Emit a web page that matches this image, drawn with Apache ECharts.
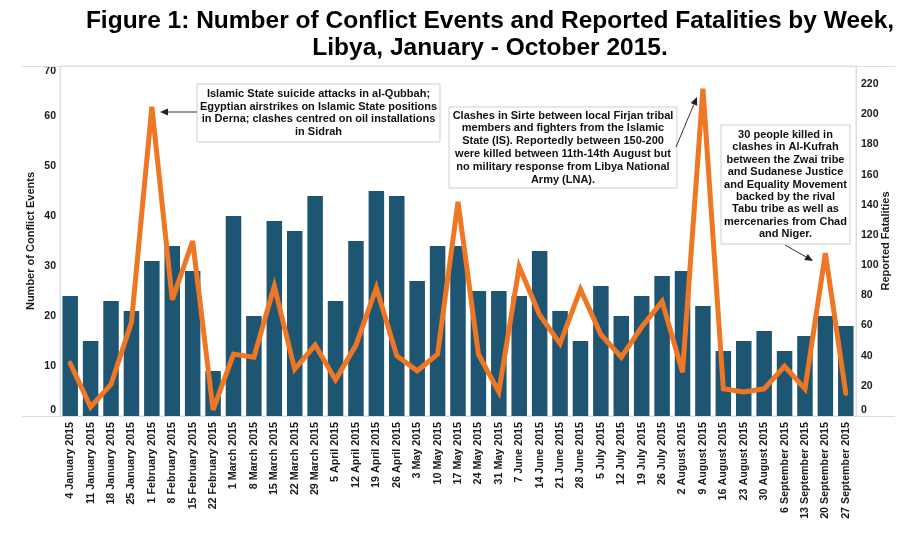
<!DOCTYPE html>
<html>
<head>
<meta charset="utf-8">
<script src="https://cdn.jsdelivr.net/npm/echarts@6/dist/echarts.min.js"></script>
<style>
html,body{margin:0;padding:0;background:#fff;}
#chart{width:919px;height:551px;}
</style>
</head>
<body>
<div id="chart"></div>
<script>
var weeks = ['4 January 2015','11 January 2015','18 January 2015','25 January 2015','1 February 2015','8 February 2015','15 February 2015','22 February 2015','1 March 2015','8 March 2015','15 March 2015','22 March 2015','29 March 2015','5 April 2015','12 April 2015','19 April 2015','26 April 2015','3 May 2015','10 May 2015','17 May 2015','24 May 2015','31 May 2015','7 June 2015','14 June 2015','21 June 2015','28 June 2015','5 July 2015','12 July 2015','19 July 2015','26 July 2015','2 August 2015','9 August 2015','16 August 2015','23 August 2015','30 August 2015','6 September 2015','13 September 2015','20 September 2015','27 September 2015'];
var conflictEvents = [24,15,23,21,31,34,29,9,40,20,39,37,44,23,35,45,44,27,34,34,25,25,24,33,21,15,26,20,24,28,29,22,13,15,17,13,16,20,18];
var fatalities = [35,6,21,62,205,77,116,4,41,39,86,31,47,24,47,85,40,30,41,142,41,16,99,67,48,84,54,39,59,76,29,217,18,16,18,33,18,108,15];
var leftTicks = {min:0, max:70, interval:10};
var rightTicks = {min:0, max:232, interval:20};
var titleText = 'Figure 1: Number of Conflict Events and Reported Fatalities by Week,\nLibya, January - October 2015.';
var note1 = 'Islamic State suicide attacks in al-Qubbah;\nEgyptian airstrikes on Islamic State positions\nin Derna; clashes centred on oil installations\nin Sidrah';
var note2 = 'Clashes in Sirte between local Firjan tribal\nmembers and fighters from the Islamic\nState (IS). Reportedly between 150-200\nwere killed between 11th-14th August but\nno military response from Libya National\nArmy (LNA).';
var note3 = '30 people killed in\nclashes in Al-Kufrah\nbetween the Zwai tribe\nand Sudanese Justice\nand Equality Movement\nbacked by the rival\nTabu tribe as well as\nmercenaries from Chad\nand Niger.';

var FONT = '"Liberation Sans", Arial, sans-serif';
var FRAME = '#dedede';

function arrow(x1,y1,x2,y2){
  var dx=x2-x1, dy=y2-y1, L=Math.sqrt(dx*dx+dy*dy), ux=dx/L, uy=dy/L;
  var hl=8, hw=3.5;
  var bx=x2-ux*hl, by=y2-uy*hl;
  return [
    {type:'line', shape:{x1:x1,y1:y1,x2:bx,y2:by}, style:{stroke:'#333', lineWidth:1}, z:20},
    {type:'polygon', shape:{points:[[x2,y2],[bx-uy*hw,by+ux*hw],[bx+uy*hw,by-ux*hw]]}, style:{fill:'#222'}, z:20}
  ];
}
function note(x,y,w,h,text,lh){
  return [
    {type:'rect', shape:{x:x,y:y,width:w,height:h}, style:{fill:'#fff', stroke:'#cfcfcf', lineWidth:1}, z:15},
    {type:'text', x:x+w/2, y:y+h/2, style:{text:text, fontSize:11, fontWeight:'bold', fontFamily:FONT, lineHeight:lh, fill:'#111', align:'center', verticalAlign:'middle', textAlign:'center', textVerticalAlign:'middle'}, z:16}
  ];
}

var graphics = [
  {type:'text', x:490, y:35, style:{text:titleText, fontSize:24.5, fontWeight:'bold', fontFamily:FONT, lineHeight:27, fill:'#000', align:'center', verticalAlign:'middle', textAlign:'center', textVerticalAlign:'middle'}, z:20},
  {type:'line', shape:{x1:22,y1:66.5,x2:895,y2:66.5}, style:{stroke:FRAME, lineWidth:1}, z:1},
  {type:'line', shape:{x1:22,y1:416.5,x2:895,y2:416.5}, style:{stroke:FRAME, lineWidth:1}, z:1}
].concat(note(197,84,243,58,note1,12.5))
 .concat(note(449,107,228,81,note2,12.8))
 .concat(note(721,125,129,119,note3,12.4))
 .concat(arrow(197,112,160,112))
 .concat(arrow(676,147,697,97))
 .concat(arrow(785,245,813,261));

var chart = echarts.init(document.getElementById('chart'), null, {renderer:'canvas'});
chart.setOption({
  animation:false,
  backgroundColor:'#fff',
  textStyle:{fontFamily:FONT},
  grid:{left:60, right:63, top:66, bottom:135, show:true, borderColor:FRAME, borderWidth:1},
  xAxis:{
    type:'category', data:weeks,
    axisLine:{show:true, lineStyle:{color:FRAME}},
    axisTick:{show:false},
    axisLabel:{rotate:90, interval:0, margin:6, fontSize:10.7, fontWeight:'bold', color:'#1a1a1a', fontFamily:FONT}
  },
  yAxis:[
    {type:'value', min:leftTicks.min, max:leftTicks.max, interval:leftTicks.interval,
     name:'Number of Conflict Events', nameLocation:'middle', nameGap:24, nameMoveOverlap:false,
     nameTextStyle:{fontSize:11, fontWeight:'bold', color:'#1a1a1a', fontFamily:FONT},
     axisLine:{show:true, lineStyle:{color:FRAME}}, axisTick:{show:false}, splitLine:{show:false},
     axisLabel:{margin:4, fontSize:10.5, fontWeight:'bold', color:'#1a1a1a', fontFamily:FONT, verticalAlignMinLabel:'bottom', verticalAlignMaxLabel:'top'}},
    {type:'value', position:'right', min:rightTicks.min, max:rightTicks.max, interval:rightTicks.interval,
     name:'Reported Fatalities', nameLocation:'middle', nameGap:24, nameMoveOverlap:false,
     nameTextStyle:{fontSize:11, fontWeight:'bold', color:'#1a1a1a', fontFamily:FONT},
     axisLine:{show:true, lineStyle:{color:FRAME}}, axisTick:{show:false}, splitLine:{show:false},
     axisLabel:{margin:5, fontSize:10.5, fontWeight:'bold', color:'#1a1a1a', fontFamily:FONT, showMaxLabel:false, verticalAlignMinLabel:'bottom'}}
  ],
  series:[
    {type:'bar', name:'Number of Conflict Events', data:conflictEvents, yAxisIndex:0,
     barWidth:'76%', itemStyle:{color:'#1e5573'}, z:2},
    {type:'line', name:'Reported Fatalities', data:fatalities, yAxisIndex:1,
     symbol:'none', lineStyle:{color:'#ef7622', width:5, join:'miter', miterLimit:4, cap:'round'}, z:5}
  ],
  graphic:graphics
});
</script>
</body>
</html>
